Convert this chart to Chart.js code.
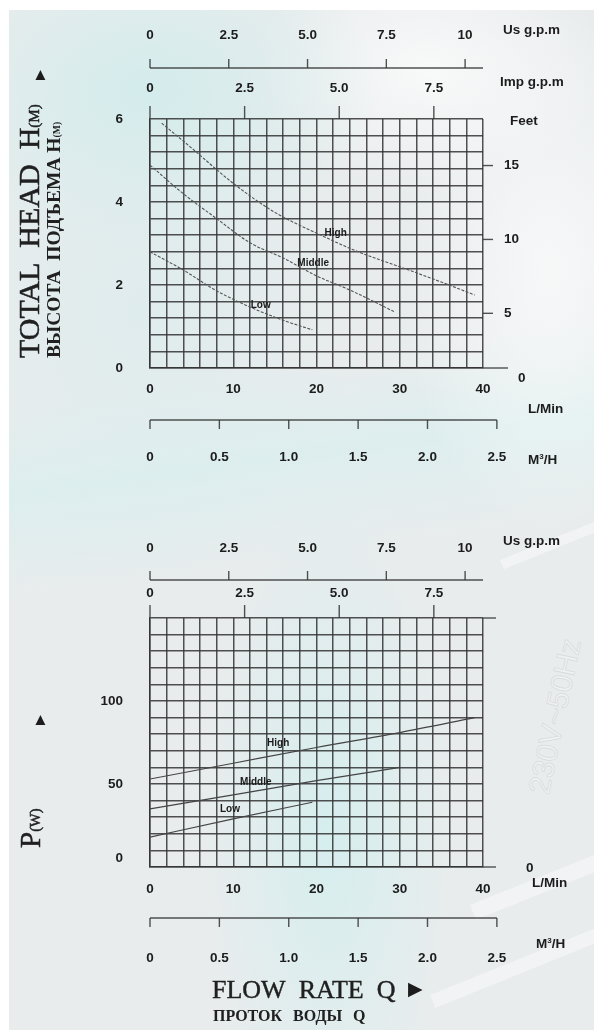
<!DOCTYPE html>
<html>
<head>
<meta charset="utf-8">
<script src="https://cdn.jsdelivr.net/npm/chart.js@4.4.0/dist/chart.umd.min.js"></script>
<style>
    html, body { margin: 0; padding: 0; }
    body {
        width: 594px; height: 1030px; position: relative; overflow: hidden;
        background: #fff;
        font-family: "Liberation Sans", Arial, sans-serif;
    }
    #bg {
        position: absolute; left: 9px; top: 10px; right: 0; bottom: 0;
        background-color: #e9eced;
        background-image:
            radial-gradient(ellipse 230px 160px at 140px 80px, rgba(212,236,236,1), rgba(212,236,236,0)),
            radial-gradient(ellipse 180px 120px at 420px 60px, rgba(250,251,251,0.9), rgba(250,251,251,0)),
            radial-gradient(ellipse 150px 260px at 540px 260px, rgba(248,250,250,0.9), rgba(248,250,250,0)),
            linear-gradient(172deg, rgba(220,238,238,0) 36%, rgba(220,238,238,0.9) 44%, rgba(220,238,238,0) 54%),
            radial-gradient(ellipse 130px 330px at 320px 820px, rgba(214,238,238,1), rgba(214,238,238,0)),
            radial-gradient(ellipse 220px 300px at 130px 300px, rgba(222,236,237,0.9), rgba(222,236,237,0));
    }
    .stripe { position: absolute; background: rgba(255,255,255,0.4); transform-origin: 0 0; }
    .wm {
        position: absolute; left: 522px; top: 790px; transform-origin: 0 0; transform: rotate(-78deg);
        font: 30px "Liberation Sans", Arial, sans-serif; color: rgba(255,255,255,0.35);
        -webkit-text-stroke: 1px rgba(185,190,192,0.35); white-space: nowrap;
    }
    canvas { position: absolute; left: 0; top: 0; }
    .t { position: absolute; white-space: nowrap; color: #1c1c1c; font-weight: bold; font-size: 13.5px; line-height: 14px; }
    .t sup { font-size: 8px; vertical-align: 5px; }
    .serif { font-family: "Liberation Serif", "Times New Roman", serif; font-weight: normal; color: #202020; }
    .rot { transform-origin: 0 0; transform: rotate(-90deg); }
    .sub { font-size: 0.5em; }
    .arrow { position: absolute; font-size: 17px; line-height: 18px; color: #1c1c1c; }
</style>
</head>
<body>
<div id="bg"></div>
<div class="stripe" style="left:470px;top:905px;width:140px;height:16px;transform:rotate(-22deg)"></div>
<div class="stripe" style="left:430px;top:995px;width:180px;height:14px;transform:rotate(-22deg)"></div>
<div class="stripe" style="left:500px;top:560px;width:120px;height:10px;transform:rotate(-22deg)"></div>
<div class="wm">230V~50Hz</div>

<canvas id="head-chart" width="594" height="1030"></canvas>
<canvas id="power-chart" width="594" height="1030"></canvas>

<!-- unit labels, top chart -->
<div class="t" style="left:503px;top:23px">Us g.p.m</div>
<div class="t" style="left:500px;top:75px">Imp g.p.m</div>
<div class="t" style="left:510px;top:114px">Feet</div>
<div class="t" style="left:518px;top:371px">0</div>
<div class="t" style="left:528px;top:402px">L/Min</div>
<div class="t" style="left:528px;top:450px">M<sup>3</sup>/H</div>

<!-- unit labels, bottom chart -->
<div class="t" style="left:503px;top:534px">Us g.p.m</div>
<div class="t" style="left:526px;top:861px">0</div>
<div class="t" style="left:532px;top:876px">L/Min</div>
<div class="t" style="left:536px;top:934px">M<sup>3</sup>/H</div>

<!-- axis titles -->
<div class="arrow" style="left:32px;top:66px">&#9650;</div>
<div class="t serif rot" style="left:13px;top:358px;font-size:30px;line-height:32px;-webkit-text-stroke:0.5px #202020">TOTAL&nbsp; HEAD&nbsp; H<span class="sub">(M)</span></div>
<div class="t serif rot" style="left:43px;top:358px;font-size:19.5px;line-height:21px;font-weight:bold">ВЫСОТА&nbsp; ПОДЪЕМА H<span class="sub">(M)</span></div>

<div class="arrow" style="left:32px;top:711px">&#9650;</div>
<div class="t serif rot" style="left:15px;top:848px;font-size:29px;line-height:30px;-webkit-text-stroke:0.5px #202020">P<span class="sub">(W)</span></div>

<div class="t serif" style="left:212px;top:975px;font-size:26px;line-height:30px;-webkit-text-stroke:0.4px #202020">FLOW&nbsp; RATE&nbsp; Q</div>
<div class="arrow" style="left:408px;top:980px;font-size:19px">&#9654;</div>
<div class="t serif" style="left:213px;top:1007px;font-size:16px;line-height:18px;font-weight:bold;word-spacing:7px">ПРОТОК ВОДЫ Q</div>

<script>
// ---- flow axes (main scale in L/min) ----
const lpmTicks = [0, 10, 20, 30, 40];
const usGpmTicks = [0, 2.5, 5, 7.5, 10];
const usGpmLabels = ['0', '2.5', '5.0', '7.5', '10'];
const impGpmTicks = [0, 2.5, 5, 7.5];
const impGpmLabels = ['0', '2.5', '5.0', '7.5'];
const m3hTicks = [0, 0.5, 1, 1.5, 2, 2.5];
const m3hLabels = ['0', '0.5', '1.0', '1.5', '2.0', '2.5'];

// ---- head chart ----
const headTicks = [0, 2, 4, 6];
const feetTicks = [5, 10, 15];
const headHighQ = [1.4, 5, 10, 15, 20, 25, 30, 35, 39];
const headHighH = [5.9, 5.3, 4.45, 3.75, 3.25, 2.8, 2.44, 2.07, 1.76];
const headMidQ = [0, 4, 8, 12, 16, 20, 24, 29.3];
const headMidH = [4.89, 4.2, 3.6, 3.02, 2.65, 2.22, 1.88, 1.36];
const headLowQ = [0, 4, 8, 12, 16, 19.5];
const headLowH = [2.8, 2.36, 1.86, 1.47, 1.15, 0.92];

// ---- power chart ----
const powerTicks = [0, 50, 100];
const powHighQ = [0, 10, 20, 30, 39];
const powHighP = [53, 62.5, 72, 81, 90];
const powMidQ = [0, 10, 20, 30];
const powMidP = [35, 43.5, 52, 60];
const powLowQ = [0, 10, 19.5];
const powLowP = [18, 29, 39];

const speedNames = ['High', 'Middle', 'Low'];

const LPM_PER_USGPM = 3.785;
const LPM_PER_IMPGPM = 4.546;
const LPM_PER_M3H = 1000 / 60;

const INK = '#1c1c1c';
const GRID = 'rgba(50, 50, 50, 0.85)';
const LABEL_FONT = 'bold 13.5px "Liberation Sans", Arial, sans-serif';

function pts(qs, vs) {
    return qs.map((q, i) => ({ x: q, y: vs[i] }));
}

function seg(ctx, x1, y1, x2, y2) {
    ctx.beginPath();
    ctx.moveTo(x1, y1);
    ctx.lineTo(x2, y2);
    ctx.stroke();
}

// draws the extra unit scales around the grid, all positioned through chart.scales
const pumpAxes = {
    id: 'pumpAxes',
    afterDraw(chart, args, o) {
        const { ctx, chartArea: a, scales: { x, y } } = chart;
        ctx.save();
        ctx.strokeStyle = GRID;
        ctx.lineWidth = 1.4;
        ctx.fillStyle = INK;
        ctx.font = LABEL_FONT;
        ctx.textAlign = 'center';
        ctx.textBaseline = 'middle';

        // US g.p.m scale (line with ticks pointing up)
        seg(ctx, a.left, o.usLineY, a.right, o.usLineY);
        usGpmTicks.forEach((v, i) => {
            const px = x.getPixelForValue(v * LPM_PER_USGPM);
            seg(ctx, px, o.usLineY, px, o.usLineY - 9);
            ctx.fillText(usGpmLabels[i], px, o.usLabelY);
        });

        // Imp g.p.m scale (ticks rising from grid top)
        impGpmTicks.forEach((v, i) => {
            const px = x.getPixelForValue(v * LPM_PER_IMPGPM);
            seg(ctx, px, a.top, px, a.top - 13);
            ctx.fillText(impGpmLabels[i], px, o.impLabelY);
        });

        // L/min labels
        lpmTicks.forEach(v => ctx.fillText(String(v), x.getPixelForValue(v), o.lpmLabelY));

        // M3/H bracket scale
        const m3Right = x.getPixelForValue(m3hTicks[m3hTicks.length - 1] * LPM_PER_M3H);
        seg(ctx, a.left, o.m3LineY, m3Right, o.m3LineY);
        m3hTicks.forEach((v, i) => {
            const px = x.getPixelForValue(v * LPM_PER_M3H);
            seg(ctx, px, o.m3LineY, px, o.m3LineY + 9);
            ctx.fillText(m3hLabels[i], px, o.m3LabelY);
        });

        // left value labels
        ctx.textAlign = 'right';
        o.yTicks.forEach(v => ctx.fillText(String(v), a.left - 27, y.getPixelForValue(v) - (v === 0 ? o.zeroLift : 0)));

        // feet scale on the right
        if (chart.scales.yFt) {
            const yf = chart.scales.yFt;
            ctx.textAlign = 'left';
            feetTicks.forEach(v => {
                const py = yf.getPixelForValue(v);
                seg(ctx, a.right, py, a.right + 10, py);
                ctx.fillText(String(v), a.right + 21, py);
            });
        }

        // border lines running past the grid
        o.extend.forEach(e => seg(ctx, a.right, e.top ? a.top : a.bottom, e.to, e.top ? a.top : a.bottom));

        // curve names
        ctx.font = 'bold 10px "Liberation Sans", Arial, sans-serif';
        ctx.textAlign = 'center';
        o.names.forEach((n, i) => {
            ctx.fillText(speedNames[i], x.getPixelForValue(n[0]), y.getPixelForValue(n[1]));
        });
        ctx.restore();
    }
};

function makeChart(id, sets, yMax, yStep, padding, extraScales, axisOpts, curve) {
    const scales = {
        x: {
            type: 'linear', min: 0, max: 40,
            ticks: { display: false, stepSize: 2 },
            grid: { color: GRID, lineWidth: 1.5, drawTicks: false },
            border: { display: true, color: GRID, width: 1.5 }
        },
        y: {
            type: 'linear', min: 0, max: yMax,
            ticks: { display: false, stepSize: yStep },
            grid: { color: GRID, lineWidth: 1.5, drawTicks: false },
            border: { display: true, color: GRID, width: 1.5 }
        },
        ...extraScales
    };
    return new Chart(document.getElementById(id), {
        type: 'line',
        data: {
            datasets: sets.map((s, i) => ({
                label: speedNames[i],
                data: s,
                borderColor: curve.color,
                borderWidth: curve.width,
                borderDash: curve.dash,
                pointRadius: 0,
                tension: 0.3,
                cubicInterpolationMode: 'monotone',
                fill: false
            }))
        },
        options: {
            responsive: false,
            animation: false,
            layout: { padding },
            scales,
            plugins: {
                legend: { display: false },
                tooltip: { enabled: false },
                pumpAxes: axisOpts
            }
        },
        plugins: [pumpAxes]
    });
}

makeChart('head-chart',
    [pts(headHighQ, headHighH), pts(headMidQ, headMidH), pts(headLowQ, headLowH)],
    6, 0.4,
    { left: 150, right: 111, top: 119, bottom: 662 },
    { yFt: { type: 'linear', display: false, min: 1.3, max: 18.15 } },
    {
        usLabelY: 35, usLineY: 68, impLabelY: 88, lpmLabelY: 389,
        m3LineY: 420, m3LabelY: 457, yTicks: headTicks, zeroLift: 0,
        extend: [{ top: false, to: 508 }],
        names: [[22.3, 3.25], [19.6, 2.53], [13.3, 1.52]]
    },
    { color: '#555', width: 1.1, dash: [3, 1.5] }
);

makeChart('power-chart',
    [pts(powHighQ, powHighP), pts(powMidQ, powMidP), pts(powLowQ, powLowP)],
    150, 10,
    { left: 150, right: 111, top: 618, bottom: 163 },
    {},
    {
        usLabelY: 548, usLineY: 580, impLabelY: 593, lpmLabelY: 889,
        m3LineY: 918, m3LabelY: 958, yTicks: powerTicks, zeroLift: 9,
        extend: [{ top: true, to: 496 }, { top: false, to: 496 }],
        names: [[15.4, 74.7], [12.7, 51.1], [9.6, 34.8]]
    },
    { color: '#444', width: 1.2, dash: [] }
);
</script>
</body>
</html>
